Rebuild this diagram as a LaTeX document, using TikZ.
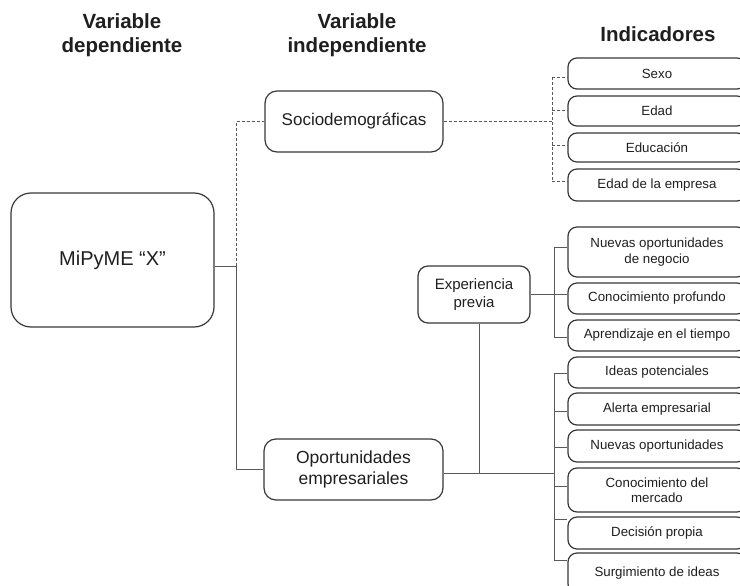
\documentclass[tikz,border=0pt]{standalone}
\usepackage{fontspec}
\setmainfont{Liberation Sans}
\begin{document}
\begin{tikzpicture}[x=1pt,y=-1pt,
  boxline/.style={draw=black!78, line width=1.2pt},
  box/.style={boxline, rounded corners=9pt, align=center, inner sep=2pt, text=black!88},
  indic/.style={box, minimum width=178pt, font=\fontsize{13.3}{15.5}\selectfont},
  head/.style={align=center, text=black!88, font=\fontsize{20.5}{24}\selectfont\bfseries},
  link/.style={draw=black!65, line width=0.9pt},
  dlink/.style={link, dash pattern=on 3pt off 2pt}]

\useasboundingbox (0,0) rectangle (740,586);
\clip (0,0) rectangle (740,586);

% column headings
\node[head] (hdep) at (122,35) {Variable\\dependiente};
\node[head] (hind) at (357,35) {Variable\\independiente};
\node[head] (hidc) at (658,34) {Indicadores};

% dependent variable
\node[box, rounded corners=20pt, minimum width=203pt, minimum height=134pt,
      font=\fontsize{20}{24}\selectfont] (mipyme) at (112.5,260) {MiPyME “X”};

% independent variables
\node[box, rounded corners=12pt, minimum width=178pt, minimum height=61pt,
      font=\fontsize{17}{21}\selectfont] (socio) at (354,121.5) {Sociodemográficas};
\node[box, rounded corners=12pt, minimum width=179pt, minimum height=61pt,
      font=\fontsize{17.5}{21}\selectfont] (opor) at (353.5,469.5) {Oportunidades\\empresariales};
\node[box, rounded corners=10pt, minimum width=112pt, minimum height=57pt,
      font=\fontsize{15}{17.5}\selectfont] (expe) at (474,294.5) {Experiencia\\previa};

% indicators
\node[indic, minimum height=31pt] (sexo) at (657,73.5) {Sexo};
\node[indic, minimum height=30pt] (edad) at (657,111) {Edad};
\node[indic, minimum height=29pt] (educ) at (657,147.5) {Educación};
\node[indic, minimum height=32pt] (empr) at (657,185) {Edad de la empresa};

\node[indic, minimum height=50pt] (nneg) at (657,252) {Nuevas oportunidades\\de negocio};
\node[indic, minimum height=31pt] (cpro) at (657,298.5) {Conocimiento profundo};
\node[indic, minimum height=31pt] (apre) at (657,335.5) {Aprendizaje en el tiempo};

\node[indic, minimum height=31pt] (ipot) at (657,372.5) {Ideas potenciales};
\node[indic, minimum height=32pt] (aler) at (657,409) {Alerta empresarial};
\node[indic, minimum height=32pt] (nopo) at (657,446) {Nuevas oportunidades};
\node[indic, minimum height=44pt] (cmer) at (657,490) {Conocimiento del\\mercado};
\node[indic, minimum height=32pt] (dpro) at (657,533) {Decisión propia};
\node[indic, minimum height=40pt] (surg) at (657,573) {Surgimiento de ideas};

% junction points
\coordinate (jm) at (236,266);
\coordinate (js) at (552,123);
\coordinate (s1) at (552,77);
\coordinate (s2) at (552,110);
\coordinate (s3) at (552,145);
\coordinate (s4) at (552,181);
\coordinate (e1) at (554,247);
\coordinate (e2) at (554,294);
\coordinate (e3) at (554,337);
\coordinate (ev) at (479,473);
\coordinate (o0) at (554,473);
\coordinate (o1) at (554,373);
\coordinate (o2) at (554,411);
\coordinate (o3) at (554,447);
\coordinate (o4) at (554,486);
\coordinate (o5) at (554,519);
\coordinate (o6) at (554,560);

% dependent -> independent variables
\draw[link] (mipyme.east |- jm) -- (jm) |- (opor.west);
\draw[dlink] (jm) |- (socio.west);

% sociodemographic indicators
\draw[dlink] (socio.east) -- (socio.east -| js);
\draw[dlink] (s1) -- (s4);
\draw[dlink] (s1) -- (s1 -| sexo.west);
\draw[dlink] (s2) -- (s2 -| edad.west);
\draw[dlink] (s3) -- (s3 -| educ.west);
\draw[dlink] (s4) -- (s4 -| empr.west);

% previous experience indicators
\draw[link] (expe.east |- e2) -- (e2);
\draw[link] (e1) -- (e3);
\draw[link] (e1) -- (e1 -| nneg.west);
\draw[link] (e2) -- (e2 -| cpro.west);
\draw[link] (e3) -- (e3 -| apre.west);

% business opportunities indicators
\draw[link] (ev |- expe.south) -- (ev);
\draw[link] (opor.east |- o0) -- (o0);
\draw[link] (o1) -- (o6);
\draw[link] (o1) -- (o1 -| ipot.west);
\draw[link] (o2) -- (o2 -| aler.west);
\draw[link] (o3) -- (o3 -| nopo.west);
\draw[link] (o4) -- (o4 -| cmer.west);
\draw[link] (o5) -- (o5 -| dpro.west);
\draw[link] (o6) -- (o6 -| surg.west);
\end{tikzpicture}
\end{document}
